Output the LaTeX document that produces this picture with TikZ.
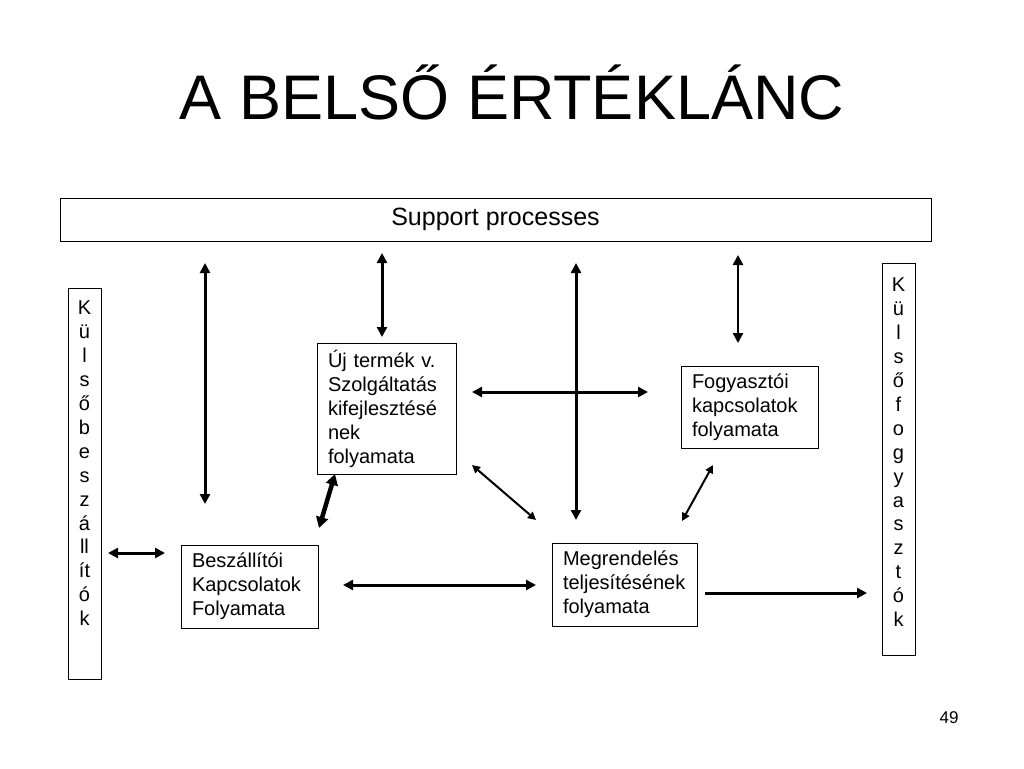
\documentclass[tikz,border=0pt]{standalone}
\usepackage{fontspec}
\setmainfont{Liberation Sans}
\usetikzlibrary{arrows.meta}
\hyphenpenalty=10000
\exhyphenpenalty=10000
\tikzset{
  box/.style={draw=black, line width=1pt, inner xsep=11pt, inner ysep=0pt, align=left,
    font=\fontsize{20}{24}\selectfont},
  vbar/.style={draw=black, line width=1pt, inner sep=0pt},
  vletters/.style={inner sep=0pt, align=center, anchor=north, font=\fontsize{20}{23.9}\selectfont},
  thick arrow/.style={line width=3pt, {Triangle[length=10pt,width=10pt]}-{Triangle[length=10pt,width=10pt]}},
  thin arrow/.style={line width=2pt, {Triangle[length=8pt,width=8pt]}-{Triangle[length=8pt,width=8pt]}},
  heavy arrow/.style={line width=4.5pt, {Triangle[length=11pt,width=12pt]}-{Triangle[length=11pt,width=12pt]}},
  one arrow/.style={line width=3pt, -{Triangle[length=10pt,width=10pt]}}
}
\begin{document}
\begin{tikzpicture}[x=1pt,y=-1pt]
\useasboundingbox[fill=white] (0,0) rectangle (1024,768);

\node[inner sep=0pt, anchor=base, font=\fontsize{63}{70}\selectfont] (title) at (512,119) {A BELSŐ ÉRTÉKLÁNC};

\node[draw=black, line width=1pt, minimum width=871pt, minimum height=43pt, inner sep=0pt,
  font=\fontsize{25}{28}\selectfont] (support) at (495.5,219.5) {Support processes};

\node[vbar, minimum width=33pt, minimum height=391pt] (lbar) at (84.5,483.5) {};
\node[vletters] (ltext) at (84.5,301) {K\\ü\\l\\s\\ő\\b\\e\\s\\z\\á\\ll\\ít\\ó\\k};

\node[vbar, minimum width=33pt, minimum height=392pt] (rbar) at (898.5,459) {};
\node[vletters] (rtext) at (898.5,278) {K\\ü\\l\\s\\ő\\f\\o\\g\\y\\a\\s\\z\\t\\ó\\k};

\node[box, minimum width=139pt, minimum height=131pt, text width=117pt] (uj) at (386.5,408.5)
  {Új termék v.\\Szolgáltatás\\kifejlesztésé\\nek\\folyamata};
\node[box, minimum width=137pt, minimum height=82pt, text width=115pt] (fogy) at (749.5,407)
  {Fogyasztói\\kapcsolatok\\folyamata};
\node[box, minimum width=137pt, minimum height=83pt, text width=115pt] (besz) at (249.5,586.5)
  {Beszállítói\\Kapcsolatok\\Folyamata};
\node[box, minimum width=145pt, minimum height=83pt, text width=123pt] (megr) at (624.5,584.5)
  {Megrendelés\\teljesítésének\\folyamata};

\node[inner sep=0pt, font=\fontsize{17}{20}\selectfont] (page) at (949,718) {49};

% arrow end points
\coordinate (a1s) at (205,263); \coordinate (a1e) at (205,504);
\coordinate (a2s) at (382,253); \coordinate (a2e) at (382,337);
\coordinate (a3s) at (576,263); \coordinate (a3e) at (576,520);
\coordinate (a4s) at (738,255); \coordinate (a4e) at (738,343);
\coordinate (a5s) at (472,392); \coordinate (a5e) at (648,392);
\coordinate (a6s) at (472,465); \coordinate (a6e) at (536,520);
\coordinate (a7s) at (713,465); \coordinate (a7e) at (682,521);
\coordinate (a8s) at (335,474); \coordinate (a8e) at (319,528);
\coordinate (a9s) at (108,553); \coordinate (a9e) at (165,553);
\coordinate (a10s) at (343,585); \coordinate (a10e) at (536,585);
\coordinate (a11s) at (705,593); \coordinate (a11e) at (867,593);

\draw[thick arrow] (a1s) -- (a1e);
\draw[thick arrow] (a2s) -- (a2e);
\draw[thick arrow] (a3s) -- (a3e);
\draw[thick arrow, line width=2.5pt] (a4s) -- (a4e);
\draw[thick arrow] (a5s) -- (a5e);
\draw[thin arrow] (a6s) -- (a6e);
\draw[thin arrow] (a7s) -- (a7e);
\draw[heavy arrow] (a8s) -- (a8e);
\draw[thick arrow] (a9s) -- (a9e);
\draw[thick arrow] (a10s) -- (a10e);
\draw[one arrow] (a11s) -- (a11e);
\end{tikzpicture}
\end{document}
